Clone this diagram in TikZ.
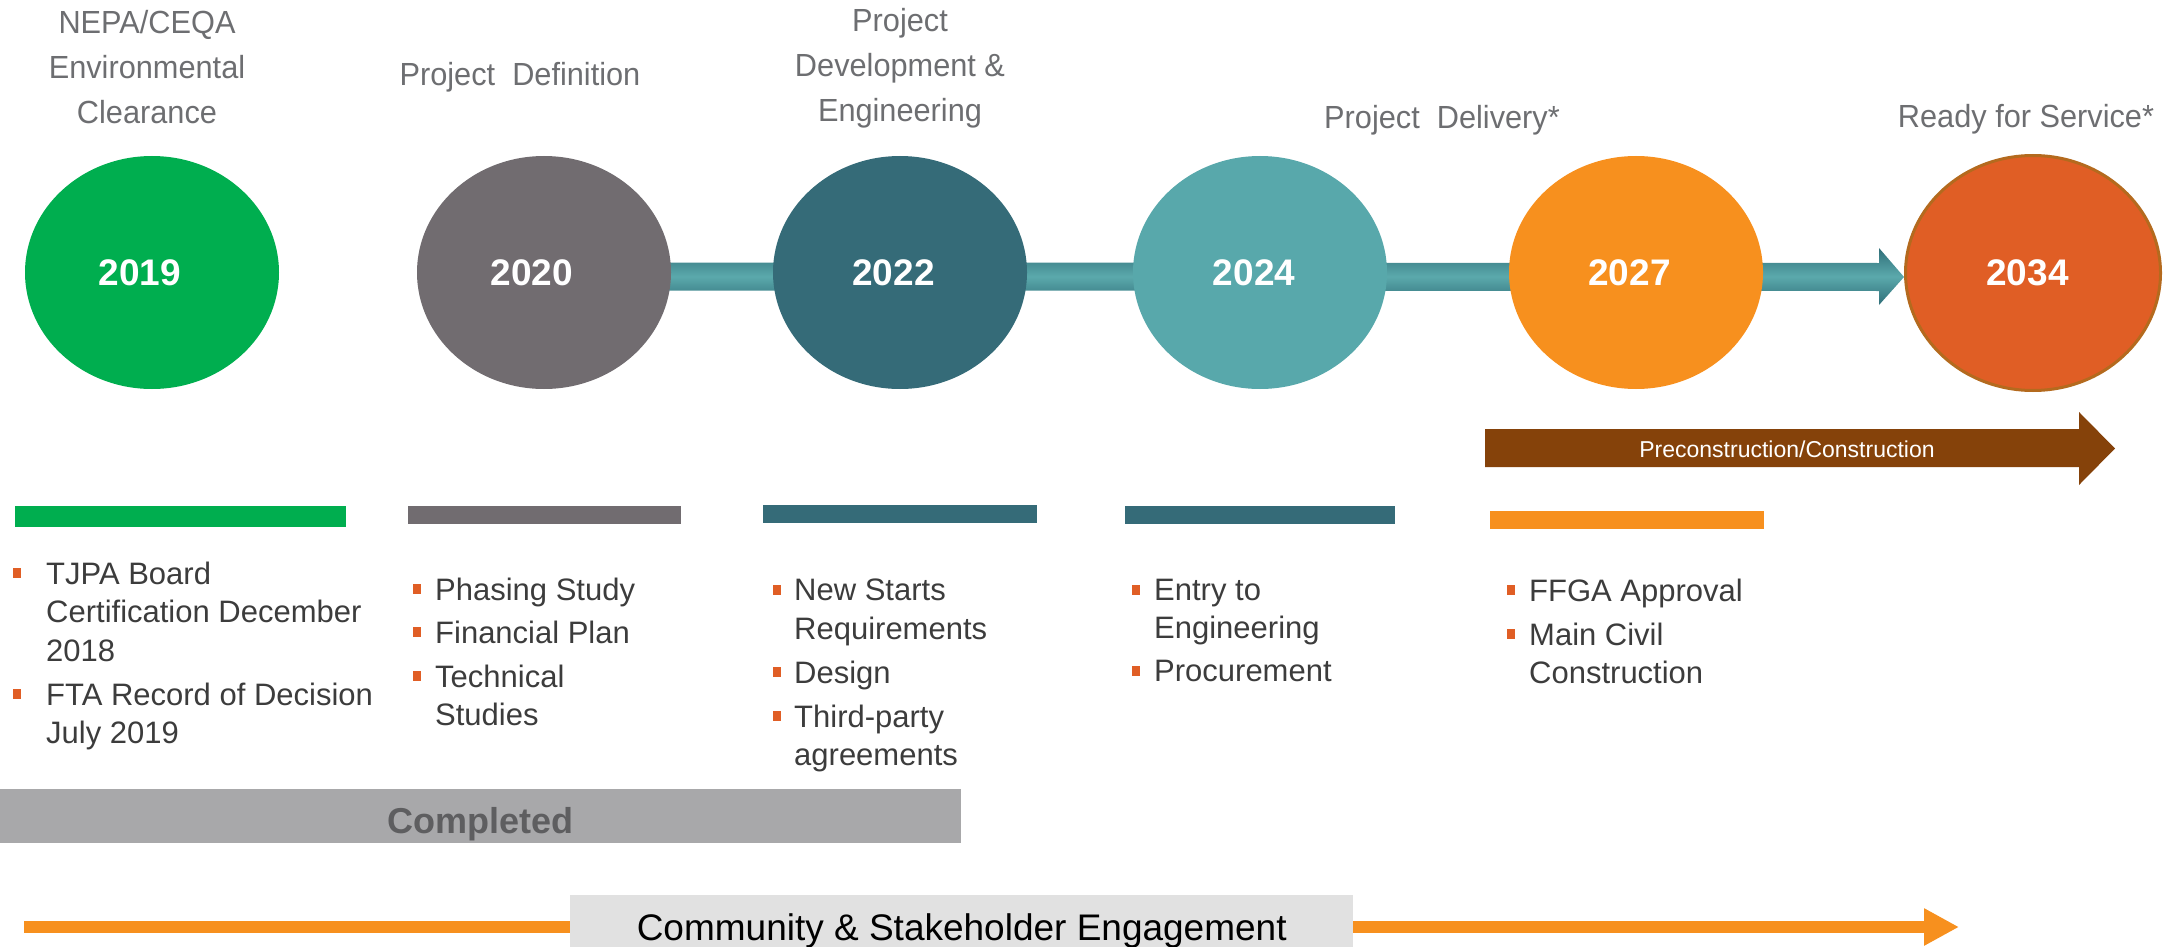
\documentclass[tikz,border=0pt]{standalone}
\usepackage{fontspec}
\setmainfont{Liberation Sans}
\newfontfamily\condf[FakeStretch=0.96]{Liberation Sans}
\usetikzlibrary{shapes.geometric,arrows.meta,calc}
\pgfdeclarelayer{bg}
\pgfsetlayers{bg,main}
\definecolor{cgreen}{HTML}{00AE4F}
\definecolor{cgray}{HTML}{716C70}
\definecolor{ctealdk}{HTML}{356B78}
\definecolor{ctealmid}{HTML}{5BA9AC}
\definecolor{ctealbar}{HTML}{2F6E78}
\definecolor{cteallt}{HTML}{58A8AB}
\definecolor{corange}{HTML}{F7901E}
\definecolor{cred}{HTML}{E05E25}
\definecolor{credbd}{HTML}{B46A1E}
\definecolor{cbrown}{HTML}{85420A}
\definecolor{ctitle}{HTML}{6D6E71}
\definecolor{cbody}{HTML}{3C3C3C}
\definecolor{cbul}{HTML}{E05E25}
\definecolor{ccomp}{HTML}{A8A8AA}
\definecolor{ccomptxt}{HTML}{5E5E60}
\definecolor{cbox}{HTML}{E1E1E1}
\tikzset{
  yr/.style={ellipse, minimum width=254pt, minimum height=233pt, inner sep=0pt,
    text=white, font=\fontsize{37}{44}\selectfont\bfseries},
  ttl/.style={anchor=north, inner sep=0pt, align=center, text=ctitle,
    font=\condf\fontsize{32}{45}\selectfont},
  itm/.style={anchor=north west, inner sep=0pt, align=left, text=cbody,
    font=\fontsize{31}{38.5}\selectfont},
  bul/.style={fill=cbul},
}
\begin{document}
\begin{tikzpicture}[x=1pt,y=-1pt]
\useasboundingbox (0,0) rectangle (2164,947);

% year circles
\node[yr, fill=cgreen] (n2019) at (152,272.5) {2019\hspace*{24pt}};
\node[yr, fill=cgray] (n2020) at (544,272.5) {2020\hspace*{24pt}};
\node[yr, fill=ctealdk] (n2022) at (900,272.5) {2022\hspace*{13pt}};
\node[yr, fill=cteallt] (n2024) at (1260,272.5) {2024\hspace*{12pt}};
\node[yr, fill=corange] (n2027) at (1636,272.5) {2027\hspace*{13pt}};
\node[yr, fill=cred, draw=credbd, line width=3pt, minimum width=255pt, minimum height=235pt] (n2034) at (2033,273) {2034\hspace*{11pt}};

% teal connector arrow behind circles
\begin{pgfonlayer}{bg}
\coordinate (cA) at (n2020.east);
\coordinate (cB) at (n2034.west);
\shade[top color=ctealbar, bottom color=ctealbar, middle color=ctealmid]
  ($(cA)+(-3,-10)$) -- ($(cB)+(-25,-10)$) -- ($(cB)+(-25,-25)$) -- ($(cB)+(0,4)$)
  -- ($(cB)+(-25,32)$) -- ($(cB)+(-25,18)$) -- ($(cA)+(-3,18)$) -- cycle;
\end{pgfonlayer}

% titles
\node[ttl] (t1) at (147,10) {NEPA/CEQA\\Environmental\\Clearance};
\node[ttl] (t2) at (520,62) {Project\ \ Definition};
\node[ttl] (t3) at (900,8) {Project\\Development \&\\Engineering};
\node[ttl] (t4) at (1442,105) {Project\ \ Delivery*};
\node[ttl] (t5) at (2026,104) {Ready for Service*};

% preconstruction arrow
\fill[cbrown] (1485,429) -- (2079,429) -- (2079,412) -- (2115,448.5) -- (2079,485) -- (2079,467) -- (1485,467) -- cycle;
\node[anchor=base, inner sep=0pt, text=white, font=\fontsize{23}{28}\selectfont] (pc) at (1787,457) {Preconstruction/Construction};

% colour bars
\fill[cgreen] (15,506) rectangle (346,527);
\fill[cgray] (408,506) rectangle (681,524);
\fill[ctealdk] (763,505) rectangle (1037,523);
\fill[ctealdk] (1125,506) rectangle (1395,524);
\fill[corange] (1490,511) rectangle (1764,529);

% column 1
\fill[bul] (13,568) rectangle (21,578);
\node[itm] (a1) at (46,561.7) {TJPA Board\\Certification December\\2018};
\fill[bul] (13,689) rectangle (21,699);
\node[itm] (a2) at (46,682.7) {FTA Record of Decision\\July 2019};
% column 2
\fill[bul] (413,584) rectangle (421,594);
\node[itm] (b1) at (435,577.7) {Phasing Study};
\fill[bul] (413,627) rectangle (421,637);
\node[itm] (b2) at (435,620.7) {Financial Plan};
\fill[bul] (413,671) rectangle (421,681);
\node[itm] (b3) at (435,664.7) {Technical\\Studies};
% column 3
\fill[bul] (773,585) rectangle (781,595);
\node[itm] (c1) at (794,578.7) {New Starts\\Requirements};
\fill[bul] (773,667) rectangle (781,677);
\node[itm] (c2) at (794,660.7) {Design};
\fill[bul] (773,711) rectangle (781,721);
\node[itm] (c3) at (794,704.7) {Third-party\\agreements};
% column 4
\fill[bul] (1132,585) rectangle (1140,595);
\node[itm] (d1) at (1154,578.7) {Entry to\\Engineering};
\fill[bul] (1132,666) rectangle (1140,676);
\node[itm] (d2) at (1154,659.7) {Procurement};
% column 5
\fill[bul] (1507,585) rectangle (1515,595);
\node[itm] (e1) at (1529,578.7) {FFGA Approval};
\fill[bul] (1507,629) rectangle (1515,639);
\node[itm] (e2) at (1529,622.7) {Main Civil\\Construction};

% completed bar
\node[fill=ccomp, inner sep=0pt, anchor=north west, minimum width=961pt, minimum height=54pt,
  text height=34pt, text depth=0pt, text=ccomptxt, font=\fontsize{36}{42}\selectfont\bfseries] (comp) at (0,789) {Completed};

% engagement arrow
\coordinate (eS) at (24,927);
\coordinate (eE) at (1959,927);
\draw[corange, line width=12pt, -{Triangle[length=35pt,width=35pt]}] (eS) -- (eE);
\node[fill=cbox, inner sep=0pt, anchor=north west, minimum width=783pt, minimum height=52pt,
  text height=38pt, text depth=0pt, text=black, font=\fontsize{37}{44}\selectfont] (ceng) at (570,895) {Community \& Stakeholder Engagement};
\end{tikzpicture}
\end{document}
